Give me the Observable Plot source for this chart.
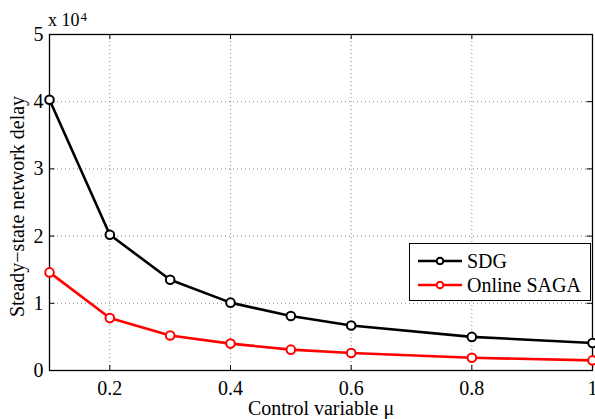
<!DOCTYPE html>
<html>
<head>
<meta charset="utf-8">
<script src="https://cdn.jsdelivr.net/npm/d3@7"></script>
<script src="https://cdn.jsdelivr.net/npm/@observablehq/plot@0.6"></script>
<style>
  html, body { margin: 0; padding: 0; background: #fff; }
  #wrap { position: relative; width: 595px; height: 419px; font-family: "Liberation Serif", "DejaVu Serif", serif; }
  #legend { position: absolute; left: 409px; top: 243px; width: 182px; height: 58px; border: 1.5px solid #000; background: #fff; box-sizing: border-box; }
  .li { position: absolute; left: 0; height: 24px; display: flex; align-items: center; font-size: 20px; white-space: nowrap; }
  .li svg { margin-left: 7px; margin-right: 4px; }
  #expo { position: absolute; left: 48px; top: 9px; font-size: 18px; line-height: 22px; }
  #expo sup { font-size: 13px; position: relative; top: -3px; vertical-align: top; margin-left: 1px; }
</style>
</head>
<body>
<div id="wrap"></div>
<script>
const mu = [0.1, 0.2, 0.3, 0.4, 0.5, 0.6, 0.8, 1.0];
const sdg = [4.03, 2.02, 1.35, 1.01, 0.81, 0.67, 0.50, 0.41];
const saga = [1.46, 0.78, 0.52, 0.40, 0.31, 0.26, 0.19, 0.15];
const seriesNames = ["SDG", "Online SAGA"];
const seriesColors = ["#000000", "#ff0000"];
const xTicks = [0.2, 0.4, 0.6, 0.8, 1];
const yTicks = [0, 1, 2, 3, 4, 5];
const xLabel = "Control variable \u03bc";
const yLabel = "Steady\u2212state network delay";

const rows = [];
mu.forEach((m, i) => {
  rows.push({mu: m, v: sdg[i], s: seriesNames[0]});
  rows.push({mu: m, v: saga[i], s: seriesNames[1]});
});

const xt = 0.009, yt = 0.075;
const chart = Plot.plot({
  width: 595, height: 419,
  marginLeft: 49, marginRight: 3, marginTop: 34, marginBottom: 49,
  style: {fontFamily: "Liberation Serif, serif", fontSize: "20px", color: "#000", background: "#fff", overflow: "visible"},
  x: {domain: [0.1, 1], axis: null},
  y: {domain: [0, 5], axis: null},
  color: {domain: seriesNames, range: seriesColors},
  marks: [
    Plot.ruleX(xTicks, {x: d => d, y1: 0, y2: 5, stroke: "#888", strokeWidth: 1, strokeDasharray: "1,3"}),
    Plot.ruleY(yTicks, {y: d => d, x1: 0.1, x2: 1, stroke: "#888", strokeWidth: 1, strokeDasharray: "1,3"}),
    Plot.ruleX(xTicks, {x: d => d, y1: 0, y2: yt, stroke: "#000"}),
    Plot.ruleX(xTicks, {x: d => d, y1: 5, y2: 5 - yt, stroke: "#000"}),
    Plot.ruleY(yTicks, {y: d => d, x1: 0.1, x2: 0.1 + xt, stroke: "#000"}),
    Plot.ruleY(yTicks, {y: d => d, x1: 1, x2: 1 - xt, stroke: "#000"}),
    Plot.frame({stroke: "#000", strokeWidth: 1.3}),
    Plot.text(xTicks, {x: d => d, y: 0, dy: 18, text: d => String(d), fontSize: 20, textAnchor: "middle", lineAnchor: "middle", fill: "#000"}),
    Plot.text(yTicks, {x: 0.1, y: d => d, dx: -6, text: d => String(d), fontSize: 20, textAnchor: "end", lineAnchor: "middle", fill: "#000"}),
    Plot.text([xLabel], {frameAnchor: "bottom", dy: 38, fontSize: 20, textAnchor: "middle", lineAnchor: "middle", fill: "#000"}),
    Plot.text([yLabel], {frameAnchor: "left", dx: -32, dy: 4, rotate: -90, fontSize: 20, textAnchor: "middle", lineAnchor: "middle", fill: "#000"}),
    Plot.line(rows, {x: "mu", y: "v", z: "s", stroke: "s", strokeWidth: 2.6}),
    Plot.dot(rows, {x: "mu", y: "v", stroke: "s", fill: "#fff", r: 4.3, strokeWidth: 2})
  ]
});
const wrap = document.getElementById("wrap");
wrap.appendChild(chart);

const expo = document.createElement("div");
expo.id = "expo";
expo.innerHTML = "x 10<sup>4</sup>";
wrap.appendChild(expo);

const leg = document.createElement("div");
leg.id = "legend";
seriesNames.forEach((n, i) => {
  const d = document.createElement("div");
  d.className = "li";
  d.style.top = (5 + i * 24) + "px";
  d.innerHTML = `<svg width="46" height="12"><line x1="1" y1="6" x2="45" y2="6" stroke="${seriesColors[i]}" stroke-width="2.6"/><circle cx="23" cy="6" r="3.3" fill="#fff" stroke="${seriesColors[i]}" stroke-width="2"/></svg><span>${n}</span>`;
  leg.appendChild(d);
});
wrap.appendChild(leg);
</script>
</body>
</html>
